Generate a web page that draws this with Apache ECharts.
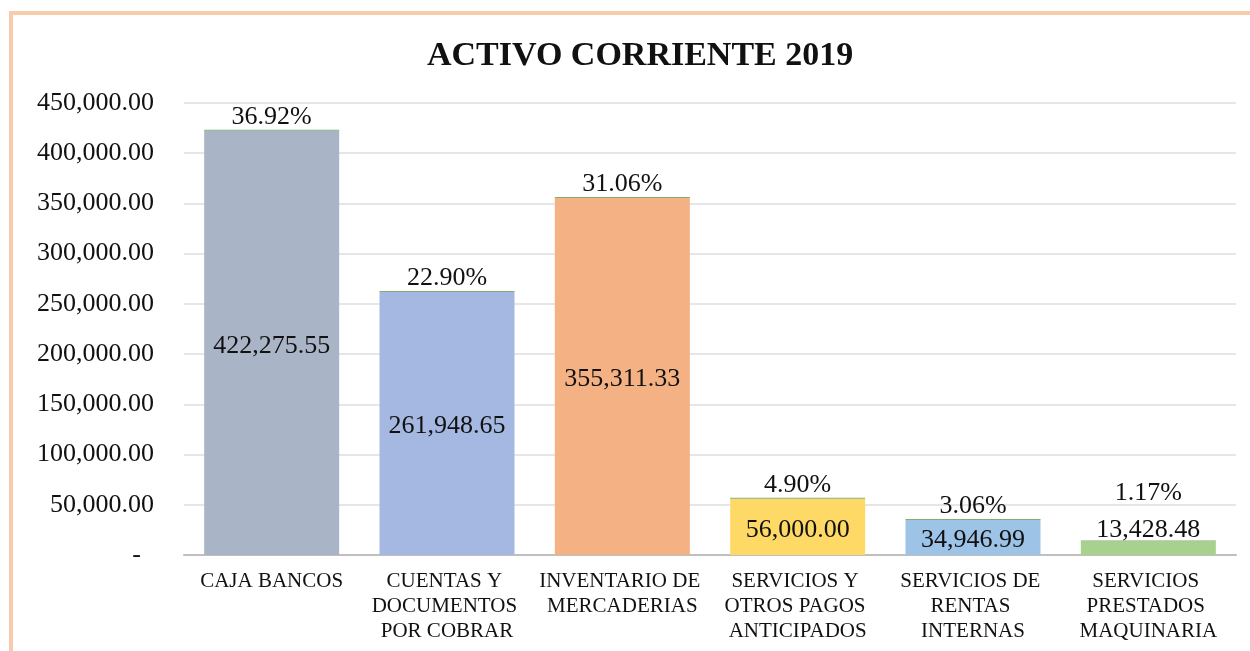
<!DOCTYPE html>
<html>
<head>
<meta charset="utf-8">
<script src="https://cdn.jsdelivr.net/npm/echarts@6/dist/echarts.min.js"></script>
<style>
  html, body { margin: 0; padding: 0; background: #fff; }
  #chart { width: 1250px; height: 651px; }
</style>
</head>
<body>
<div id="chart"></div>
<script>
// data
const categories = [
  'CAJA BANCOS',
  'CUENTAS Y DOCUMENTOS POR COBRAR',
  'INVENTARIO DE MERCADERIAS',
  'SERVICIOS Y OTROS PAGOS ANTICIPADOS',
  'SERVICIOS DE RENTAS INTERNAS',
  'SERVICIOS PRESTADOS MAQUINARIA'
];
const amounts = [422275.55, 261948.65, 355311.33, 56000.00, 34946.99, 13428.48];
const percents = [36.92, 22.90, 31.06, 4.90, 3.06, 1.17];
const barColors = ['#A9B4C7', '#A5B8E2', '#F4B183', '#FFD966', '#9DC3E6', '#A9D18E'];

const FONT = '"Liberation Serif", "Times New Roman", serif';

const fmt = v => v.toLocaleString('en-US', { minimumFractionDigits: 2, maximumFractionDigits: 2 });

const chart = echarts.init(document.getElementById('chart'));

// small bars get their amount label above the bar, like the original
const amountData = amounts.map((v, i) => {
  const item = { value: v, itemStyle: { color: barColors[i] } };
  if (v < 20000) item.label = { position: 'top', distance: 1 };
  return item;
});
const pctData = percents.map((p, i) => {
  const item = { value: p };
  if (amounts[i] < 20000) item.label = { offset: [0, -34] };
  return item;
});

const option = {
  animation: false,
  backgroundColor: '#fff',
  graphic: [{
    type: 'rect',
    shape: { x: 11, y: 13, width: 1400, height: 800 },
    style: { fill: 'none', stroke: '#F8CBAD', lineWidth: 4 },
    z: 100
  }],
  title: {
    text: 'ACTIVO CORRIENTE 2019',
    left: 422,
    top: 34,
    textStyle: { fontFamily: FONT, fontSize: 34, fontWeight: 'bold', color: '#111' }
  },
  grid: { left: 184, right: 14, top: 103, bottom: 96 },
  xAxis: {
    type: 'category',
    data: categories,
    axisTick: { show: false },
    axisLine: { lineStyle: { color: '#BFBFBF', width: 2 } },
    axisLabel: {
      fontFamily: FONT, fontSize: 21, color: '#111',
      width: 172, overflow: 'break', lineHeight: 25, margin: 14, interval: 0
    }
  },
  yAxis: {
    type: 'value',
    min: 0, max: 450000, interval: 50000,
    axisLine: { show: false },
    axisTick: { show: false },
    splitLine: { lineStyle: { color: '#E6E6E6', width: 2 } },
    axisLabel: {
      fontFamily: FONT, fontSize: 26, color: '#111', margin: 30,
      formatter: v => v === 0 ? '-  ' : fmt(v)
    }
  },
  series: [
    {
      name: 'Monto',
      type: 'bar',
      stack: 'a',
      barWidth: '77%',
      data: amountData,
      label: {
        show: true, position: 'inside', offset: [0, 3],
        fontFamily: FONT, fontSize: 26, color: '#111',
        formatter: p => fmt(p.value)
      }
    },
    {
      name: 'Porcentaje',
      type: 'bar',
      stack: 'a',
      barWidth: '77%',
      barMinHeight: 1,
      data: pctData,
      itemStyle: { color: '#7FAE6E' },
      label: {
        show: true, position: 'top', distance: 0,
        fontFamily: FONT, fontSize: 26, color: '#111',
        formatter: p => p.value.toFixed(2) + '%'
      }
    }
  ]
};

chart.setOption(option);
</script>
</body>
</html>
